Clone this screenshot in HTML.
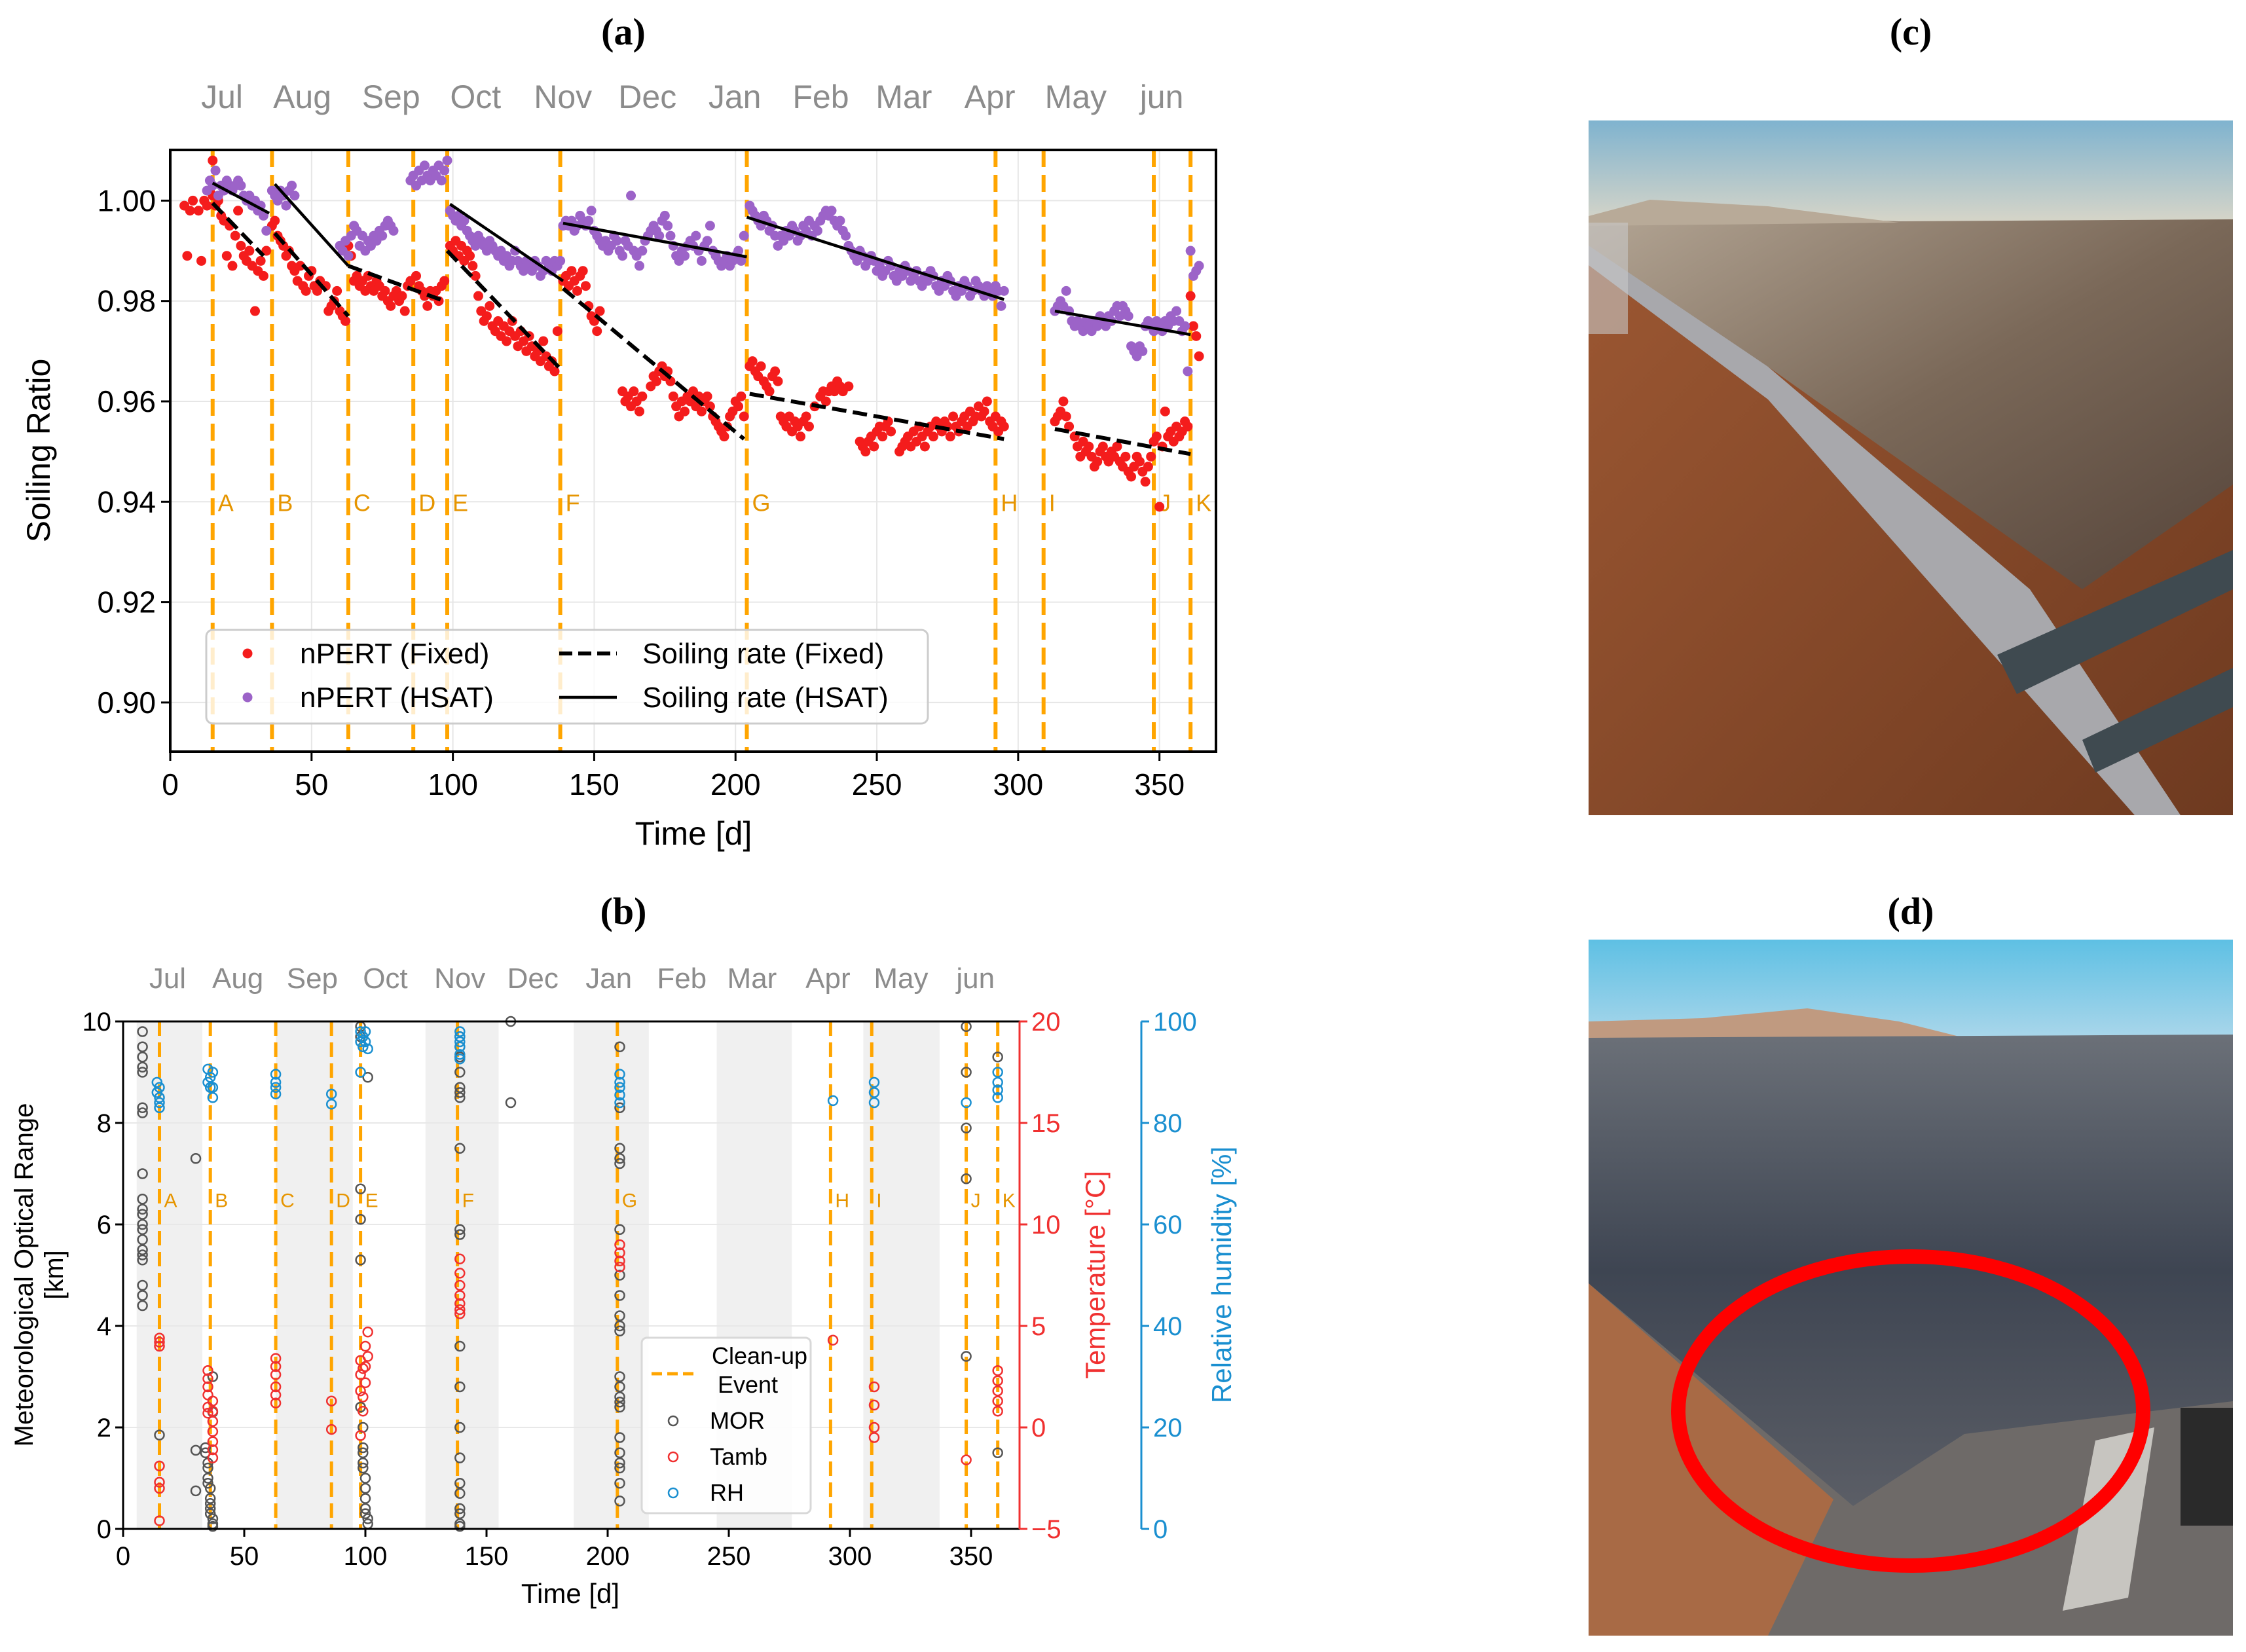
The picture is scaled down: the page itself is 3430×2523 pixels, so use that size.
<!DOCTYPE html>
<html><head><meta charset="utf-8"><style>
html,body{margin:0;padding:0;background:#fff;}
svg{display:block;font-family:"Liberation Sans",sans-serif;}
</style></head><body>
<svg id="root" width="3430" height="2523" viewBox="0 0 3430 2523" xmlns="http://www.w3.org/2000/svg">
<g id="photoC">
  <defs>
    <linearGradient id="skyC" x1="0" y1="0" x2="0" y2="1"><stop offset="0" stop-color="#7fb3cf"/><stop offset="1" stop-color="#d9d6c8"/></linearGradient>
    <linearGradient id="panelC" x1="0" y1="0" x2="1" y2="1"><stop offset="0" stop-color="#b3a594"/><stop offset="0.5" stop-color="#7a6858"/><stop offset="1" stop-color="#55443a"/></linearGradient>
    <linearGradient id="groundC" x1="0" y1="0" x2="1" y2="1"><stop offset="0" stop-color="#a05a34"/><stop offset="1" stop-color="#6e3a20"/></linearGradient>
    <linearGradient id="skyD" x1="0" y1="0" x2="0" y2="1"><stop offset="0" stop-color="#5ec0e4"/><stop offset="1" stop-color="#a9d6ea"/></linearGradient>
    <linearGradient id="panelD" x1="0" y1="0" x2="0" y2="1"><stop offset="0" stop-color="#6b7078"/><stop offset="0.5" stop-color="#3e4552"/><stop offset="1" stop-color="#5b5e66"/></linearGradient>
  </defs>
  <rect x="2426" y="184" width="984" height="1061" fill="url(#groundC)"/>
  <rect x="2426" y="184" width="984" height="160" fill="url(#skyC)"/>
  <polygon points="2426,330 2700,330 2900,338 3410,335 3410,740 3180,900 2700,560 2426,380" fill="url(#panelC)"/>
  <polygon points="2426,375 2700,560 3100,900 3330,1245 3260,1245 2700,610 2426,405" fill="#a8a8ac"/>
  <polygon points="2426,330 2520,305 2700,315 2900,340 2426,345" fill="#b8aa98"/>
  <polygon points="3050,1000 3410,840 3410,900 3080,1060" fill="#3f4a50"/>
  <polygon points="3180,1130 3410,1020 3410,1080 3200,1180" fill="#3f4a50"/>
  <rect x="2426" y="340" width="60" height="170" fill="#c8c8c8" opacity="0.6"/>
</g>
<g id="photoD">
  <rect x="2426" y="1435" width="984" height="1063" fill="#6e6a68"/>
  <rect x="2426" y="1435" width="984" height="150" fill="url(#skyD)"/>
  <polygon points="2426,1560 2600,1555 2760,1540 2900,1560 3000,1585 2426,1590" fill="#c09a80"/>
  <polygon points="2426,1585 3410,1580 3410,2140 3000,2190 2830,2300 2426,1960" fill="url(#panelD)"/>
  <polygon points="2426,1960 2800,2290 2700,2498 2426,2498" fill="#a86a45"/>
  <polygon points="3200,2200 3290,2180 3250,2440 3150,2460" fill="#c7c5c0"/>
  <rect x="3330" y="2150" width="80" height="180" fill="#2a2a2a"/>
  <ellipse cx="2918" cy="2155" rx="355" ry="236" fill="none" stroke="#ff0000" stroke-width="22"/>
</g>
<text x="2918" y="68" font-family="Liberation Serif,serif" font-weight="bold" font-size="58" text-anchor="middle">(c)</text>
<text x="2918" y="1411" font-family="Liberation Serif,serif" font-weight="bold" font-size="58" text-anchor="middle">(d)</text>
<text x="952" y="68" font-family="Liberation Serif,serif" font-weight="bold" font-size="58" text-anchor="middle">(a)</text>
<text x="952" y="1411" font-family="Liberation Serif,serif" font-weight="bold" font-size="58" text-anchor="middle">(b)</text>
<g id="chartA"></g>
<g id="chartB"></g>
</svg>
<script>
// ---------- Chart A data ----------
const monthsA = ["Jul","Aug","Sep","Oct","Nov","Dec","Jan","Feb","Mar","Apr","May","jun"];
const cleanDays = [15,36,63,86,98,138,204,292,309,348,361];
const cleanLetters = ["A","B","C","D","E","F","G","H","I","J","K"];
const xTicks = [0,50,100,150,200,250,300,350];
const yTicksA = [0.90,0.92,0.94,0.96,0.98,1.00];
const fixedPts = [[5,0.999],[6,0.989],[7,0.998],[8,1.000],[10,0.998],[11,0.988],[12,1.000],[13,0.999],[14,1.002],[15,1.008],[15,1.001],[16,0.999],[17,1.000],[18,0.997],[19,0.996],[20,0.989],[21,0.995],[22,0.987],[23,0.993],[24,0.998],[25,0.991],[26,0.989],[27,0.988],[28,0.990],[29,0.987],[30,0.978],[31,0.986],[32,0.988],[33,0.985],[34,0.990],
[36,0.995],[37,0.996],[38,0.993],[39,0.992],[40,0.991],[41,0.989],[42,0.990],[43,0.987],[44,0.986],[45,0.984],[46,0.987],[47,0.983],[48,0.982],[49,0.985],[50,0.986],[51,0.983],[52,0.982],[53,0.984],[55,0.983],[56,0.978],[57,0.979],[58,0.980],[59,0.982],[60,0.978],[61,0.977],[62,0.976],
[63,0.991],[64,0.989],[65,0.984],[66,0.985],[67,0.983],[68,0.984],[69,0.982],[70,0.985],[71,0.983],[72,0.982],[73,0.984],[74,0.983],[75,0.981],[76,0.982],[77,0.980],[78,0.979],[79,0.981],[80,0.982],[81,0.980],[82,0.981],[83,0.978],[84,0.983],[85,0.984],
[87,0.985],[88,0.983],[89,0.982],[90,0.981],[91,0.979],[92,0.982],[93,0.981],[94,0.982],[95,0.980],[96,0.983],[97,0.984],
[99,0.991],[100,0.990],[101,0.992],[102,0.989],[103,0.991],[104,0.988],[105,0.990],[106,0.989],[107,0.987],[108,0.985],[109,0.981],[110,0.978],[111,0.976],[112,0.977],[113,0.979],[114,0.975],[115,0.974],[116,0.976],[117,0.973],[118,0.975],[119,0.972],[120,0.974],[121,0.976],[122,0.973],[123,0.971],[124,0.974],[125,0.972],[126,0.970],[127,0.973],[128,0.971],[129,0.969],[130,0.970],[131,0.968],[132,0.972],[133,0.969],[134,0.967],[135,0.968],[136,0.966],[137,0.974],
[139,0.984],[140,0.985],[141,0.983],[142,0.986],[143,0.984],[144,0.982],[145,0.985],[146,0.986],[147,0.983],[148,0.979],[149,0.977],[150,0.976],[151,0.974],[152,0.978],
[160,0.962],[161,0.960],[162,0.961],[163,0.959],[164,0.962],[165,0.960],[166,0.958],[167,0.961],[170,0.963],[171,0.965],[172,0.964],[173,0.966],[174,0.967],[175,0.965],[176,0.966],[177,0.964],[178,0.961],[179,0.959],[180,0.957],[181,0.960],[182,0.958],[183,0.961],[184,0.960],[185,0.962],[186,0.959],[187,0.961],[188,0.958],[189,0.960],[190,0.961],[191,0.959],[192,0.957],[193,0.956],[194,0.955],[195,0.954],[196,0.953],[197,0.955],[198,0.957],[199,0.958],[200,0.960],[201,0.959],[202,0.961],[203,0.957],
[205,0.967],[206,0.968],[207,0.966],[208,0.965],[209,0.967],[210,0.964],[211,0.963],[212,0.962],[213,0.965],[214,0.966],[215,0.964],[216,0.957],[217,0.956],[218,0.955],[219,0.957],[220,0.954],[221,0.956],[222,0.955],[223,0.953],[224,0.956],[225,0.957],[226,0.955],[228,0.959],[230,0.961],[231,0.962],[232,0.960],[233,0.962],[234,0.963],[235,0.962],[236,0.964],[237,0.963],[238,0.962],[240,0.963],[244,0.952],[245,0.951],[246,0.950],[247,0.952],[248,0.953],[249,0.951],[250,0.954],[251,0.955],[252,0.953],[253,0.955],[254,0.956],[255,0.954],[258,0.950],[259,0.951],[260,0.952],[261,0.953],[262,0.951],[263,0.954],[264,0.952],[265,0.955],[266,0.953],[267,0.951],[268,0.954],[269,0.955],[270,0.953],[271,0.956],[272,0.955],[273,0.954],[274,0.956],[275,0.955],[276,0.953],[277,0.957],[278,0.955],[279,0.954],[280,0.956],[281,0.957],[282,0.955],[283,0.958],[284,0.956],[285,0.957],[286,0.959],[287,0.957],[288,0.958],[289,0.960],[290,0.956],[291,0.955],[292,0.957],[293,0.954],[294,0.956],[295,0.955],
[313,0.956],[314,0.957],[315,0.958],[316,0.960],[317,0.957],[318,0.955],[320,0.953],[321,0.951],[322,0.949],[323,0.952],[324,0.950],[325,0.951],[326,0.949],[327,0.947],[328,0.948],[329,0.950],[330,0.951],[331,0.949],[332,0.948],[333,0.950],[334,0.949],[335,0.951],[336,0.948],[337,0.947],[338,0.949],[339,0.946],[340,0.945],[341,0.947],[342,0.949],[343,0.948],[344,0.946],[345,0.944],[346,0.947],[347,0.949],[348,0.952],[349,0.953],[350,0.939],[351,0.951],[352,0.958],[353,0.953],[354,0.954],[355,0.952],[356,0.955],[357,0.953],[358,0.954],[359,0.956],[360,0.955],[361,0.981],[362,0.975],[363,0.973],[364,0.969]];
const hsatPts = [[13,1.002],[14,1.004],[15,1.003],[16,1.006],[17,1.001],[18,1.003],[19,1.002],[20,1.004],[21,1.003],[22,1.002],[23,1.003],[24,1.004],[25,1.003],[26,1.001],[27,1.000],[28,1.001],[29,0.999],[30,1.000],[31,0.998],[32,0.999],[33,0.997],[34,0.994],
[36,1.002],[37,1.001],[38,1.000],[39,1.002],[40,1.001],[41,0.999],[42,1.002],[43,1.003],[44,1.001],
[60,0.991],[61,0.990],[62,0.992],[63,0.989],[64,0.993],[65,0.995],[66,0.994],[67,0.991],[68,0.993],[69,0.990],[70,0.992],[71,0.991],[72,0.993],[73,0.992],[74,0.994],[75,0.993],[76,0.995],[77,0.996],[78,0.995],[79,0.994],
[85,1.004],[86,1.005],[87,1.003],[88,1.006],[89,1.004],[90,1.007],[91,1.005],[92,1.004],[93,1.006],[94,1.005],[95,1.007],[96,1.004],[97,1.006],[98,1.008],
[99,0.998],[100,0.997],[101,0.996],[102,0.997],[103,0.995],[104,0.996],[105,0.994],[106,0.993],[107,0.992],[108,0.991],[109,0.993],[110,0.992],[111,0.991],[112,0.990],[113,0.992],[114,0.991],[115,0.990],[116,0.989],[117,0.990],[118,0.988],[119,0.989],[120,0.987],[121,0.988],[122,0.990],[123,0.988],[124,0.987],[125,0.986],[126,0.988],[127,0.987],[128,0.986],[129,0.988],[130,0.987],[131,0.985],[132,0.986],[133,0.988],[134,0.987],[135,0.986],[136,0.988],[137,0.987],[138,0.988],
[139,0.995],[140,0.996],[141,0.995],[142,0.996],[143,0.994],[144,0.995],[145,0.997],[146,0.996],[147,0.995],[148,0.996],[149,0.998],[150,0.994],[151,0.993],[152,0.992],[153,0.991],[154,0.992],[155,0.990],[156,0.991],[157,0.993],[158,0.992],[159,0.990],[160,0.989],[161,0.992],[162,0.991],[163,1.001],[164,0.990],[165,0.989],[166,0.987],[167,0.990],[168,0.992],[169,0.993],[170,0.994],[171,0.995],[172,0.994],[173,0.993],[174,0.996],[175,0.997],[176,0.995],[177,0.993],[178,0.991],[179,0.989],[180,0.988],[181,0.990],[182,0.989],[183,0.991],[184,0.992],[185,0.991],[186,0.993],[187,0.990],[188,0.988],[189,0.991],[190,0.992],[191,0.995],[192,0.990],[193,0.989],[194,0.988],[195,0.987],[196,0.988],[197,0.989],[198,0.987],[199,0.988],[200,0.989],[201,0.990],[202,0.988],[203,0.993],
[205,0.999],[206,0.998],[207,0.997],[208,0.996],[209,0.995],[210,0.997],[211,0.996],[212,0.994],[213,0.995],[214,0.993],[215,0.991],[216,0.993],[217,0.992],[218,0.994],[219,0.993],[220,0.995],[221,0.994],[222,0.992],[223,0.993],[224,0.995],[225,0.994],[226,0.996],[227,0.993],[228,0.995],[229,0.994],[230,0.996],[231,0.997],[232,0.998],[233,0.997],[234,0.998],[235,0.996],[236,0.995],[237,0.996],[238,0.994],[239,0.993],[240,0.991],[241,0.990],[242,0.989],[243,0.988],[244,0.990],[245,0.989],[246,0.987],[247,0.988],[248,0.989],[249,0.988],[250,0.986],[251,0.987],[252,0.985],[253,0.986],[254,0.988],[255,0.987],[256,0.985],[257,0.984],[258,0.986],[259,0.985],[260,0.987],[261,0.986],[262,0.984],[263,0.985],[264,0.986],[265,0.984],[266,0.983],[267,0.985],[268,0.984],[269,0.986],[270,0.985],[271,0.983],[272,0.982],[273,0.984],[274,0.983],[275,0.985],[276,0.984],[277,0.982],[278,0.981],[279,0.983],[280,0.982],[281,0.984],[282,0.983],[283,0.981],[284,0.982],[285,0.984],[286,0.983],[287,0.982],[288,0.981],[289,0.983],[290,0.982],[291,0.981],[292,0.983],[293,0.982],[294,0.979],[295,0.982],
[313,0.978],[314,0.979],[315,0.980],[316,0.979],[317,0.982],[318,0.978],[319,0.976],[320,0.975],[321,0.976],[322,0.975],[323,0.974],[324,0.976],[325,0.975],[326,0.974],[327,0.976],[328,0.975],[329,0.977],[330,0.976],[331,0.975],[332,0.977],[333,0.976],[334,0.978],[335,0.979],[336,0.977],[337,0.979],[338,0.978],[339,0.977],[340,0.971],[341,0.970],[342,0.969],[343,0.971],[344,0.970],[345,0.975],[346,0.976],[347,0.975],[348,0.974],[349,0.976],[350,0.975],[351,0.974],[352,0.976],[353,0.975],[354,0.977],[355,0.976],[356,0.978],[357,0.976],[358,0.974],[359,0.975],[360,0.966],[361,0.990],[362,0.985],[363,0.986],[364,0.987]];
const fixedTrend = [[[15,0.9995],[33,0.989]],[[37,0.9935],[63,0.977]],[[63,0.987],[97,0.980]],[[98,0.990],[138,0.9665]],[[139,0.9825],[203,0.9525]],[[205,0.9615],[295,0.9525]],[[313,0.9545],[361,0.9495]]];
const hsatTrend = [[[15,1.0035],[35,0.9975]],[[37,1.0033],[63,0.987]],[[99,0.9993],[139,0.984]],[[139,0.9955],[204,0.9888]],[[204,0.9967],[295,0.9803]],[[313,0.978],[361,0.9733]]];

// ---------- Chart B data ----------
const monthsB = monthsA;
const shadeBands = [[5.6,32.7],[63,94.8],[124.8,155],[186,217],[245,276],[305.5,337]];
const yTicksB = [0,2,4,6,8,10];
const tTicks = [-5,0,5,10,15,20];
const rhTicks = [0,20,40,60,80,100];
const morDays = [8,8,8,8,8,8,8,8,8,8,8,8,8,8,8,8,8,8,8,8,15,30,30,30,34,34,35,35,35,35,36,36,36,36,36,37,37,37,37,37,98,98,98,98,98,98,99,99,99,99,99,100,100,100,100,100,101,101,101,139,139,139,139,139,139,139,139,139,139,139,139,139,139,139,139,139,139,139,139,160,160,205,205,205,205,205,205,205,205,205,205,205,205,205,205,205,205,205,205,205,205,205,205,348,348,348,348,348,361,361];
const morVals = [9.8,9.5,9.3,9.1,9.0,8.3,8.2,7.0,6.5,6.3,6.2,6.0,5.9,5.7,5.5,5.4,5.3,4.8,4.6,4.4,1.85,7.3,1.55,0.75,1.6,1.5,1.3,1.2,1.0,0.9,0.8,0.6,0.5,0.4,0.3,0.2,0.1,0.05,3.0,2.3,9.9,9.7,6.7,6.1,5.3,2.4,2.0,1.6,1.5,1.3,1.2,1.0,0.8,0.6,0.4,0.3,8.9,0.2,0.1,9.7,9.5,9.3,9.0,8.7,8.6,8.5,7.5,5.9,5.8,3.6,2.8,2.0,1.4,0.9,0.7,0.4,0.3,0.1,0.05,10.0,8.4,9.5,8.3,7.5,7.3,7.2,5.9,5.0,4.6,4.2,4.0,3.9,3.0,2.8,2.6,2.5,2.4,1.8,1.5,1.3,1.2,0.9,0.55,9.9,9.0,7.9,6.9,3.4,9.3,1.5];
const tambDays = [15,15,15,15,15,15,15,35,35,35,35,35,35,37,37,37,37,37,37,37,63,63,63,63,63,63,86,86,98,98,98,99,99,99,100,100,100,101,101,98,139,139,139,139,139,139,139,205,205,205,205,293,310,310,310,310,348,361,361,361,361,361];
const tambVals = [4.4,4.2,4.0,-1.9,-2.7,-3.0,-4.6,2.8,2.4,2.0,1.6,1.0,0.7,1.3,0.8,0.3,-0.2,-0.7,-1.1,-1.5,3.4,3.0,2.6,2.0,1.6,1.2,1.3,-0.1,3.3,2.6,1.8,2.9,1.5,0.8,4.0,3.0,2.2,4.7,3.5,-0.4,8.3,7.6,7.0,6.5,6.1,5.8,5.6,9.0,8.6,8.2,7.9,4.3,2.0,1.1,0.0,-0.5,-1.6,2.8,2.3,1.8,1.3,0.8];
const rhDays = [14,14,15,15,15,15,35,35,36,36,37,37,37,63,63,63,63,86,86,98,98,99,99,100,100,101,98,139,139,139,139,139,139,205,205,205,205,205,293,310,310,310,348,361,361,361,361];
const rhVals = [88,86,87,85,84,83,90.6,88,89,87,90,87,85,89.6,88,87,85.7,85.7,83.7,98,96,97,95,98,96,94.6,90,98,97,96,95,93.5,92.6,89.6,88,87,85.5,84,84.4,88,86,84,84,90,88,86.5,85];

// ---------- helpers ----------
const NS = "http://www.w3.org/2000/svg";
function mk(parent, tag, attrs, text){
  const el = document.createElementNS(NS, tag);
  for (const k in attrs) el.setAttribute(k, attrs[k]);
  if (text !== undefined) el.textContent = text;
  parent.appendChild(el);
  return el;
}
const ORANGE = "#ffa500";

// ---------- Chart A ----------
(function(){
  const g = document.getElementById("chartA");
  const L=260, R=1857, T=229, B=1148;
  const X0=0, X1=370, Y0=0.8902, Y1=1.0101;
  const xa = d => L + (d-X0)/(X1-X0)*(R-L);
  const ya = v => T + (Y1-v)/(Y1-Y0)*(B-T);
  xTicks.forEach(t=>{ const el=mk(g,"line",{x1:xa(t),x2:xa(t),y1:T,y2:B,stroke:"#e6e6e6","stroke-width":2});
      });
  yTicksA.forEach(t=>{ const el=mk(g,"line",{x1:L,x2:R,y1:ya(t),y2:ya(t),stroke:"#e6e6e6","stroke-width":2});
      });
  cleanDays.forEach((d,i)=>{
    const el=mk(g,"line",{x1:xa(d),x2:xa(d),y1:T,y2:B,stroke:ORANGE,"stroke-width":6,"stroke-dasharray":"26 12"});
     
    const tx=mk(g,"text",{x:xa(d)+8,y:ya(0.94)+14,fill:"#e69500","font-size":36},cleanLetters[i]);
     
  });
  fixedPts.forEach(p=>{ const c=mk(g,"circle",{cx:xa(p[0]),cy:ya(p[1]),r:7.5,fill:"#f41c1c"});
      });
  hsatPts.forEach(p=>{ const c=mk(g,"circle",{cx:xa(p[0]),cy:ya(p[1]),r:7.5,fill:"#9c63c8"});
      });
  fixedTrend.forEach(s=>{ const l=mk(g,"line",{x1:xa(s[0][0]),y1:ya(s[0][1]),x2:xa(s[1][0]),y2:ya(s[1][1]),stroke:"#000","stroke-width":6,"stroke-dasharray":"22 10"});
      });
  hsatTrend.forEach(s=>{ const l=mk(g,"line",{x1:xa(s[0][0]),y1:ya(s[0][1]),x2:xa(s[1][0]),y2:ya(s[1][1]),stroke:"#000","stroke-width":4.5});
      });
  const fr=mk(g,"rect",{x:L,y:T,width:R-L,height:B-T,fill:"none",stroke:"#000","stroke-width":4});
   
  xTicks.forEach(t=>{
    mk(g,"line",{x1:xa(t),x2:xa(t),y1:B,y2:B+14,stroke:"#000","stroke-width":3});
    const tx=mk(g,"text",{x:xa(t),y:B+66,"font-size":46,"text-anchor":"middle"},String(t));
     
  });
  yTicksA.forEach(t=>{
    mk(g,"line",{x1:L-14,x2:L,y1:ya(t),y2:ya(t),stroke:"#000","stroke-width":3});
    const tx=mk(g,"text",{x:L-22,y:ya(t)+16,"font-size":46,"text-anchor":"end"},t.toFixed(2));
     
  });
  const xt=mk(g,"text",{x:1059,y:1290,"font-size":50,"text-anchor":"middle"},"Time [d]");
   
  const yt=mk(g,"text",{x:0,y:0,"font-size":50,"text-anchor":"middle",transform:"translate(76,688) rotate(-90)"},"Soiling Ratio");
   
  const mX = [155,211,273,332,393,452,513,573,631,691,751,811];
  monthsA.forEach((m,i)=>{ const tx=mk(g,"text",{x:mX[i]*2.1875,y:165,"font-size":50,fill:"#8c8c8c","text-anchor":"middle"},m);
      });
  const lg=mk(g,"g",{});
   
  mk(lg,"rect",{x:315,y:962,width:1102,height:143,rx:10,fill:"#fff","fill-opacity":0.8,stroke:"#cccccc","stroke-width":3});
  mk(lg,"circle",{cx:378,cy:998,r:7.5,fill:"#f41c1c"});
  mk(lg,"circle",{cx:378,cy:1065,r:7.5,fill:"#9c63c8"});
  mk(lg,"text",{x:458,y:1013,"font-size":44},"nPERT (Fixed)");
  mk(lg,"text",{x:458,y:1080,"font-size":44},"nPERT (HSAT)");
  mk(lg,"line",{x1:854,x2:942,y1:998,y2:998,stroke:"#000","stroke-width":6,"stroke-dasharray":"20 9"});
  mk(lg,"line",{x1:854,x2:942,y1:1065,y2:1065,stroke:"#000","stroke-width":4.5});
  mk(lg,"text",{x:981,y:1013,"font-size":44},"Soiling rate (Fixed)");
  mk(lg,"text",{x:981,y:1080,"font-size":44},"Soiling rate (HSAT)");
})();

// ---------- Chart B ----------
(function(){
  const g = document.getElementById("chartB");
  const L=188, R=1557, T=1560, B=2335;
  const X0=0, X1=370;
  const xb = d => L + (d-X0)/(X1-X0)*(R-L);
  const yb = v => B - v/10*(B-T);
  const yt = t => yb((t+5)/2.5);
  const yr = r => yb(r/10);
  shadeBands.forEach(s=>{ const r=mk(g,"rect",{x:xb(s[0]),y:T,width:xb(s[1])-xb(s[0]),height:B-T,fill:"#f0f0f0"});
      });
  yTicksB.forEach(t=>{ mk(g,"line",{x1:L,x2:R,y1:yb(t),y2:yb(t),stroke:"#e8e8e8","stroke-width":2}); });
  cleanDays.forEach((d,i)=>{
    const el=mk(g,"line",{x1:xb(d),x2:xb(d),y1:T,y2:B,stroke:ORANGE,"stroke-width":5,"stroke-dasharray":"22 10"});
     
    const tx=mk(g,"text",{x:xb(d)+7,y:yb(6.5)+12,fill:"#e69500","font-size":30},cleanLetters[i]);
     
  });
  morDays.forEach((d,i)=>{ const c=mk(g,"circle",{cx:xb(d),cy:yb(morVals[i]),r:7,fill:"none",stroke:"#555","stroke-width":2.5});
      });
  tambDays.forEach((d,i)=>{ const c=mk(g,"circle",{cx:xb(d),cy:yt(tambVals[i]),r:7,fill:"none",stroke:"#f03030","stroke-width":2.5});
      });
  rhDays.forEach((d,i)=>{ const c=mk(g,"circle",{cx:xb(d),cy:yr(rhVals[i]),r:7,fill:"none",stroke:"#1a8fd0","stroke-width":2.5});
      });
  mk(g,"line",{x1:L,x2:R,y1:T,y2:T,stroke:"#000","stroke-width":3});
  mk(g,"line",{x1:L,x2:R,y1:B,y2:B,stroke:"#000","stroke-width":3});
  mk(g,"line",{x1:L,x2:L,y1:T,y2:B,stroke:"#000","stroke-width":3});
  mk(g,"line",{x1:R,x2:R,y1:T,y2:B,stroke:"#f03030","stroke-width":3});
  const RX=1743;
  mk(g,"line",{x1:RX,x2:RX,y1:T,y2:B,stroke:"#1a8fd0","stroke-width":3});
  xTicks.forEach(t=>{
    mk(g,"line",{x1:xb(t),x2:xb(t),y1:B,y2:B+12,stroke:"#000","stroke-width":3});
    const tx=mk(g,"text",{x:xb(t),y:B+55,"font-size":40,"text-anchor":"middle"},String(t));
     
  });
  yTicksB.forEach(t=>{
    mk(g,"line",{x1:L-12,x2:L,y1:yb(t),y2:yb(t),stroke:"#000","stroke-width":3});
    const tx=mk(g,"text",{x:L-18,y:yb(t)+14,"font-size":40,"text-anchor":"end"},String(t));
     
  });
  tTicks.forEach(t=>{
    mk(g,"line",{x1:R,x2:R+12,y1:yt(t),y2:yt(t),stroke:"#f03030","stroke-width":3});
    const tx=mk(g,"text",{x:R+18,y:yt(t)+14,"font-size":40,fill:"#f03030"},t<0?"\u2212"+(-t):String(t));
     
  });
  rhTicks.forEach(t=>{
    mk(g,"line",{x1:RX,x2:RX+12,y1:yr(t),y2:yr(t),stroke:"#1a8fd0","stroke-width":3});
    const tx=mk(g,"text",{x:RX+18,y:yr(t)+14,"font-size":40,fill:"#1a8fd0"},String(t));
     
  });
  const xt=mk(g,"text",{x:871,y:2448,"font-size":42,"text-anchor":"middle"},"Time [d]");
   
  const y1=mk(g,"text",{x:0,y:0,"font-size":40,"text-anchor":"middle",transform:"translate(50,1947) rotate(-90)"},"Meteorological Optical Range");
   
  const y2=mk(g,"text",{x:0,y:0,"font-size":40,"text-anchor":"middle",transform:"translate(96,1947) rotate(-90)"},"[km]");
   
  const y3=mk(g,"text",{x:0,y:0,"font-size":42,fill:"#f03030","text-anchor":"middle",transform:"translate(1687,1947) rotate(-90)"},"Temperature [°C]");
   
  const y4=mk(g,"text",{x:0,y:0,"font-size":42,fill:"#1a8fd0","text-anchor":"middle",transform:"translate(1880,1947) rotate(-90)"},"Relative humidity [%]");
   
  const mX = [117,166,218,269,321,372,425,476,525,578,629,681];
  monthsB.forEach((m,i)=>{ const tx=mk(g,"text",{x:mX[i]*2.1875,y:1509,"font-size":44,fill:"#8c8c8c","text-anchor":"middle"},m);
      });
  const lg=mk(g,"g",{});
   
  mk(lg,"rect",{x:980,y:2043,width:258,height:268,rx:8,fill:"#fff","fill-opacity":0.85,stroke:"#d8d8d8","stroke-width":3});
  mk(lg,"line",{x1:995,x2:1062,y1:2098,y2:2098,stroke:ORANGE,"stroke-width":5,"stroke-dasharray":"16 8"});
  mk(lg,"text",{x:1160,y:2083,"font-size":36,"text-anchor":"middle"},"Clean-up");
  mk(lg,"text",{x:1142,y:2127,"font-size":36,"text-anchor":"middle"},"Event");
  mk(lg,"circle",{cx:1028,cy:2170,r:7,fill:"none",stroke:"#555","stroke-width":2.5});
  mk(lg,"text",{x:1084,y:2182,"font-size":36},"MOR");
  mk(lg,"circle",{cx:1028,cy:2225,r:7,fill:"none",stroke:"#f03030","stroke-width":2.5});
  mk(lg,"text",{x:1084,y:2237,"font-size":36},"Tamb");
  mk(lg,"circle",{cx:1028,cy:2280,r:7,fill:"none",stroke:"#1a8fd0","stroke-width":2.5});
  mk(lg,"text",{x:1084,y:2292,"font-size":36},"RH");
})();
</script>
</body></html>
